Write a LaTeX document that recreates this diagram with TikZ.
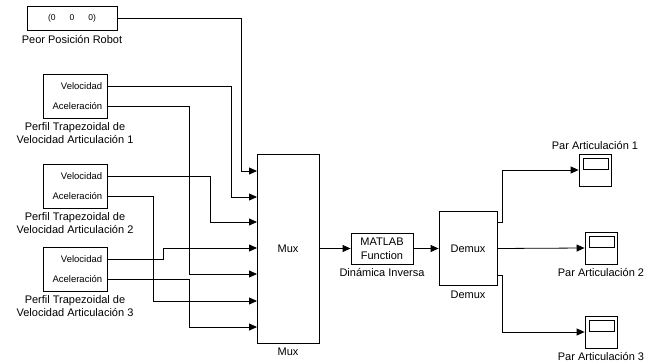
\documentclass[tikz,border=0pt]{standalone}
\usepackage{fontspec}
\setmainfont{Liberation Sans}
\usetikzlibrary{arrows.meta,positioning}

\begin{document}
\begin{tikzpicture}[x=1pt,y=-1pt,
  blk/.style={draw,line width=0.8pt,inner sep=0pt,font=\fontsize{11}{14}\selectfont,align=center},
  port/.style={anchor=east,inner sep=0pt,font=\fontsize{9.5}{10}\selectfont},
  lbl/.style={inner sep=0pt,font=\fontsize{11}{13}\selectfont,align=center},
  sig/.style={line width=0.8pt,-{Triangle[length=8pt,width=7pt]}}]
\useasboundingbox (0,0) rectangle (656,364);
\node[blk,minimum width=90pt,minimum height=24pt] (c) at (72,18) {\fontsize{8.5}{9}\selectfont(0\hspace{14pt}0\hspace{14pt}0)};
\node[lbl,below=5pt of c] (cl) {Peor Posición Robot};
\foreach \i/\y in {1/96,2/186,3/269} {
  \node[blk,minimum width=64pt,minimum height=44pt] (p\i) at (75,\y) {};
  \node[port] (v\i) at ([xshift=-5pt,yshift=10pt]p\i.east) {Velocidad};
  \node[port] (a\i) at ([xshift=-5pt,yshift=-10pt]p\i.east) {Aceleración};
  \node[lbl,below=4pt of p\i] (pl\i) {Perfil Trapezoidal de\\Velocidad Articulación \i};
}
\node[blk,minimum width=62pt,minimum height=189pt] (mux) at (288,248.5) {Mux};
\node[lbl,below=4pt of mux] (muxl) {Mux};
\foreach \i/\y in {1/171,2/197,3/222,4/248,5/274,6/301,7/327}
  \coordinate (in\i) at (257,\y);
\node[blk,minimum width=62pt,minimum height=31pt] (f) at (382,248.5) {MATLAB\\Function};
\node[lbl,below=4pt of f] (fl) {Dinámica Inversa};
\node[blk,minimum width=58pt,minimum height=74pt] (d) at (468,248.5) {Demux};
\node[lbl,below=5pt of d] (dl) {Demux};
\foreach \i/\x/\y in {1/595/170,2/601/248,3/601/332} {
  \node[blk,minimum size=32pt] (s\i) at (\x,\y) {};
  \draw[line width=0.8pt] ([shift={(5pt,-5pt)}]s\i.north west) rectangle ([shift={(-3pt,-16pt)}]s\i.north east);
}
\node[lbl,above=4pt of s1] (sl1) {Par Articulación 1};
\node[lbl,below=4pt of s2] (sl2) {Par Articulación 2};
\node[lbl,below=4pt of s3] (sl3) {Par Articulación 3};
\draw[sig] (c.east) -| ([xshift=-16pt]in1) -- (in1);
\draw[sig] (p1.east |- v1) -| ([xshift=-26pt]in2) -- (in2);
\draw[sig] (p2.east |- v2) -| ([xshift=-47pt]in3) -- (in3);
\draw[sig] (p3.east |- v3) -| ([xshift=-94pt]in4) -- (in4);
\draw[sig] (p1.east |- a1) -| ([xshift=-68pt]in5) -- (in5);
\draw[sig] (p2.east |- a2) -| ([xshift=-104pt]in6) -- (in6);
\draw[sig] (p3.east |- a3) -| ([xshift=-68pt]in7) -- (in7);
\draw[sig] (mux.east) -- (f.west);
\draw[sig] (f.east) -- (d.west);
\draw[sig] ([yshift=26.5pt]d.east) -- ++(5,0) |- (s1.west);
\draw[sig] (d.east) -- (s2.west);
\draw[sig] ([yshift=-26.5pt]d.east) -- ++(5,0) |- (s3.west);
\end{tikzpicture}
\end{document}
